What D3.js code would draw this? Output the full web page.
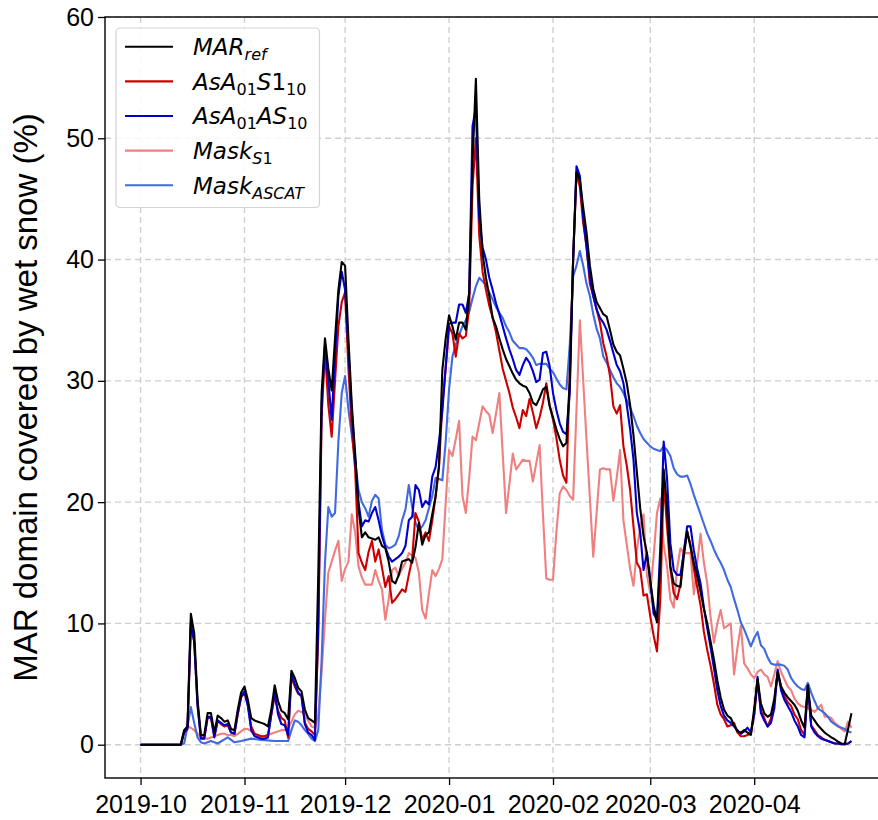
<!DOCTYPE html>
<html><head><meta charset="utf-8">
<script src="https://cdn.jsdelivr.net/npm/d3@7"></script>
<style>body{margin:0;background:#fff} svg{display:block}</style>
</head><body>
<svg id="chart" width="878" height="820"></svg>
<script>
// ---------- data (day offset from startDate, value in %) ----------
const startDate = "2019-10-01";
const monthTicks = ["2019-10-01","2019-11-01","2019-12-01","2020-01-01","2020-02-01","2020-03-01","2020-04-01"];
const yTicks = [0,10,20,30,40,50,60];

const marRef = [[0,0],[12,0],[13,1.2],[14,1.5],[15,10.8],[16,9.2],[17,3.7],[18,0.8],[19,0.8],[20,2.6],[21,2.6],[22,1.0],[23,2.4],[24,2.2],[25,1.9],[26,2.0],[27,1.3],[28,1.2],[29,2.9],[30,4.3],[31,4.8],[32,3.7],[33,2.2],[34,2.0],[35,1.9],[36,1.8],[37,1.7],[38,1.5],[39,2.9],[40,4.9],[41,3.6],[42,2.8],[43,2.6],[44,2.1],[45,6.1],[46,5.5],[47,4.7],[48,4.4],[49,2.9],[50,2.2],[51,2.0],[52,1.8],[53,14],[54,29],[55,33.5],[56,31],[57,29.2],[58,33.5],[59,37.5],[60,39.8],[61,39.5],[62,33.4],[63,28],[64,24],[65,19.5],[66,17.1],[67,17.5],[68,17.1],[69,17.0],[70,16.9],[71,17.1],[72,16.4],[73,16.2],[74,15.1],[75,13.5],[76,13.3],[77,14.0],[78,15.1],[79,15.2],[80,15.3],[81,15.0],[82,16.3],[83,18.3],[84,16.5],[85,17.3],[86,17.5],[87,19.0],[88,20.5],[89,23],[90,30.9],[91,33.5],[92,35.4],[93,34.5],[94,33.4],[95,34.8],[96,34.8],[97,34.2],[98,37.2],[99,48],[100,54.9],[101,45],[102,40.5],[103,38.5],[104,37],[105,35.2],[106,34.5],[107,33.5],[108,32.6],[109,31.8],[110,31.2],[111,30.6],[112,30.1],[113,29.8],[114,29.6],[115,29.5],[116,29.0],[117,28.2],[118,28.0],[119,28.6],[120,29.3],[121,29.5],[122,27.9],[123,27.0],[124,26.0],[125,25.2],[126,24.6],[127,24.9],[128,30],[129,40],[130,47.2],[131,46.6],[132,44.3],[133,42.2],[134,39.5],[135,37.6],[136,36.5],[137,36],[138,35.5],[139,35.3],[140,34.2],[141,33],[142,32.4],[143,32.1],[144,31],[145,29.8],[146,28],[147,25.5],[148,22.5],[149,19.5],[150,17.2],[151,15.8],[152,13.5],[153,11.5],[154,10.1],[155,15],[156,22.7],[157,19.6],[158,14.7],[159,13.3],[160,13.1],[161,13.0],[162,15.5],[163,17.6],[164,16.3],[165,15],[166,13.9],[167,12.6],[168,11.2],[169,10],[170,8.5],[171,7],[172,5.3],[173,3.9],[174,2.9],[175,2.4],[176,2.2],[177,1.6],[178,1.1],[179,1.0],[180,1.2],[181,1.0],[182,0.8],[183,3.0],[184,5.4],[185,3.4],[186,2.6],[187,2.3],[188,2.5],[189,3.8],[190,6.0],[191,4.8],[192,4.3],[193,3.9],[194,3.6],[195,3.3],[196,2.8],[197,2.0],[198,1.4],[199,4.9],[200,2.4],[201,2.0],[202,1.6],[203,1.3],[204,1.0],[205,0.8],[206,0.6],[207,0.45],[208,0.25],[209,0.1],[210,0.05],[211,1.3],[212,2.6]];

const asaS1 = [[0,0],[12,0],[13,1.0],[14,1.4],[15,9.8],[16,8.5],[17,3.3],[18,0.6],[19,0.6],[20,2.2],[21,2.2],[22,0.7],[23,2.0],[24,1.7],[25,1.5],[26,1.6],[27,1.0],[28,0.9],[29,2.5],[30,3.9],[31,4.3],[32,3.3],[33,1.5],[34,0.9],[35,0.8],[36,0.7],[37,0.7],[38,0.8],[39,2.5],[40,4.0],[41,2.8],[42,2.2],[43,2.0],[44,0.6],[45,5.6],[46,4.8],[47,4.2],[48,4.0],[49,1.8],[50,1.3],[51,1.1],[52,0.8],[53,9],[54,27],[55,32.5],[56,28],[57,25.4],[58,30],[59,34.5],[60,36.5],[61,37.3],[62,31],[63,26],[64,22.7],[65,15.8],[66,15.0],[67,14.4],[68,15.9],[69,16.8],[70,15.1],[71,16.1],[72,14.6],[73,13.0],[74,13.9],[75,11.7],[76,12.0],[77,12.4],[78,12.8],[79,12.6],[80,14.0],[81,15.3],[82,19.1],[83,18.4],[84,16.9],[85,17.5],[86,16.8],[87,18.5],[88,20.5],[89,22.9],[90,28],[91,31],[92,34.5],[93,33.9],[94,32.0],[95,33.9],[96,33.5],[97,33.7],[98,36],[99,46],[100,50],[101,42],[102,39],[103,37.5],[104,36.2],[105,35.2],[106,34.0],[107,32.5],[108,31],[109,30],[110,29],[111,27.8],[112,27],[113,26.1],[114,27.6],[115,27.1],[116,28.5],[117,27.4],[118,26.1],[119,27],[120,28.2],[121,29.8],[122,28],[123,26.8],[124,25.3],[125,23.5],[126,22.2],[127,21.6],[128,30.5],[129,40],[130,47.1],[131,46],[132,43],[133,41.1],[134,38],[135,37],[136,35.9],[137,34.8],[138,33.1],[139,32],[140,30.4],[141,27.9],[142,27.3],[143,28.0],[144,24.6],[145,23],[146,21],[147,18],[148,15.0],[149,14.5],[150,12.3],[151,12.4],[152,10.6],[153,9],[154,7.7],[155,12],[156,21.8],[157,18],[158,14.5],[159,12.5],[160,12.0],[161,13.2],[162,16.0],[163,17.6],[164,16.5],[165,14.5],[166,13.0],[167,11.5],[168,9.3],[169,7.8],[170,6.5],[171,5.0],[172,3.3],[173,2.5],[174,2.1],[175,1.5],[176,1.6],[177,1.8],[178,1.0],[179,0.7],[180,0.7],[181,0.8],[182,0.9],[183,2.5],[184,5.2],[185,2.8],[186,2.2],[187,1.5],[188,2.2],[189,3.5],[190,6.0],[191,4.8],[192,4.0],[193,3.5],[194,3.2],[195,2.5],[196,2.1],[197,1.2],[198,0.8],[199,4.8],[200,1.6],[201,1.2],[202,0.8],[203,0.6],[204,0.4],[205,0.3],[206,0.2],[207,0.1],[208,0.1],[209,0.05],[210,0.05],[211,0.1],[212,0.3]];

const asaAS = [[0,0],[12,0],[13,1.0],[14,1.3],[15,10.0],[16,8.5],[17,3.2],[18,0.5],[19,0.5],[20,2.3],[21,2.3],[22,0.6],[23,2.0],[24,1.8],[25,1.6],[26,1.7],[27,1.0],[28,0.9],[29,2.6],[30,4.0],[31,4.4],[32,3.2],[33,1.2],[34,0.7],[35,0.6],[36,0.5],[37,0.5],[38,0.6],[39,2.5],[40,4.4],[41,2.5],[42,1.7],[43,1.6],[44,0.8],[45,5.8],[46,5.0],[47,4.3],[48,4.0],[49,1.7],[50,1.0],[51,0.8],[52,0.4],[53,10],[54,28],[55,33],[56,30],[57,26.8],[58,32],[59,37],[60,39],[61,37.5],[62,32.5],[63,27.5],[64,23.5],[65,20],[66,18.0],[67,18.5],[68,18.4],[69,19.1],[70,19.6],[71,18.5],[72,17.2],[73,16.3],[74,15.5],[75,15.1],[76,15.3],[77,15.5],[78,15.8],[79,16.4],[80,18.5],[81,18.8],[82,21.4],[83,21.0],[84,19.6],[85,20.1],[86,19.8],[87,22.1],[88,22.9],[89,25],[90,27.5],[91,31.2],[92,34.7],[93,34.8],[94,34.8],[95,36.3],[96,36.3],[97,35.6],[98,37.2],[99,51],[100,52.5],[101,43.5],[102,41],[103,40],[104,38.5],[105,37.5],[106,36.4],[107,35.5],[108,34.5],[109,33.5],[110,32.6],[111,31.8],[112,30.9],[113,30.5],[114,31.3],[115,31.9],[116,31.5],[117,30.8],[118,29.9],[119,30.1],[120,32.3],[121,32.4],[122,31.2],[123,29.0],[124,27.6],[125,26.5],[126,25.8],[127,25.6],[128,29],[129,40],[130,47.7],[131,46.9],[132,43.5],[133,41],[134,38.5],[135,37],[136,35.9],[137,35.2],[138,34.8],[139,34.2],[140,33.3],[141,32.3],[142,31.3],[143,30.8],[144,29.8],[145,28],[146,26],[147,23.5],[148,19.1],[149,17.5],[150,14.4],[151,15.8],[152,13.5],[153,10.8],[154,10.3],[155,16.3],[156,25.0],[157,22],[158,16.6],[159,14.4],[160,14.0],[161,14.0],[162,15.8],[163,18.0],[164,18.0],[165,16.0],[166,14.5],[167,13.3],[168,11.3],[169,9.6],[170,8.0],[171,6.3],[172,4.5],[173,3.2],[174,2.4],[175,2.0],[176,1.8],[177,1.5],[178,1.2],[179,0.9],[180,1.1],[181,1.4],[182,1.0],[183,2.5],[184,5.6],[185,2.6],[186,2.0],[187,1.5],[188,1.8],[189,3.0],[190,6.2],[191,4.5],[192,3.7],[193,3.2],[194,2.7],[195,2.0],[196,1.5],[197,0.8],[198,0.6],[199,4.9],[200,1.5],[201,1.0],[202,0.7],[203,0.5],[204,0.4],[205,0.3],[206,0.2],[207,0.1],[208,0.1],[209,0.05],[210,0.05],[211,0.1],[212,0.3]];

const maskS1 = [[0,0],[12,0],[13,1.2],[14,1.5],[15,1.4],[16,1.2],[17,0.9],[18,0.6],[19,0.5],[20,0.5],[21,0.6],[22,0.7],[23,0.8],[24,0.9],[25,0.9],[26,0.8],[27,0.8],[28,0.7],[29,0.9],[30,1.1],[31,1.3],[32,1.3],[33,1.1],[34,0.9],[35,0.7],[36,0.7],[37,0.7],[38,0.8],[39,0.9],[40,1.0],[41,1.1],[42,1.2],[43,1.2],[44,1.3],[45,1.9],[46,2.5],[47,2.8],[48,2.7],[49,2.5],[50,2.0],[51,1.5],[52,1.4],[53,2.5],[54,6],[55,10.3],[56,14.2],[57,15.1],[58,16],[59,16.8],[60,13.5],[61,14.5],[62,15.1],[63,19.0],[64,17.5],[65,14.7],[66,13.8],[67,13.2],[68,13.2],[69,13.2],[70,14.4],[71,13.5],[72,12.8],[73,10.3],[74,12],[75,14.4],[76,14.6],[77,13.9],[78,14.5],[79,15.0],[80,15.8],[81,15.6],[82,15.4],[83,14.2],[84,11.1],[85,10.4],[86,12.5],[87,14.4],[88,13.9],[89,14.5],[90,15.3],[91,20],[92,24.3],[93,23.8],[94,25.2],[95,26.7],[96,20.5],[97,19.1],[98,22],[99,25.4],[100,25.1],[101,26.5],[102,27.9],[103,27.5],[104,27.2],[105,25.7],[106,27.3],[107,29.0],[108,24],[109,19.1],[110,21.5],[111,24.0],[112,22.7],[113,23.1],[114,23.5],[115,23.4],[116,23.4],[117,21.7],[118,23.2],[119,24.7],[120,19],[121,13.7],[122,13.6],[123,13.6],[124,17.5],[125,20.7],[126,21.3],[127,21.0],[128,20.5],[129,20.2],[131,35.0],[133,25.1],[135,15.5],[137,22.7],[138,22.8],[139,22.7],[140,22.7],[141,20.1],[142,22],[143,24.3],[144,18.5],[145,16.5],[146,14.5],[147,13.1],[148,16],[149,18],[150,19.0],[151,14],[152,12.5],[153,15.5],[154,19.1],[155,20.3],[156,16.5],[157,14.7],[158,12.0],[159,11.3],[160,14.5],[161,16.2],[162,15.8],[163,15.8],[164,15.8],[165,12.4],[166,15],[167,17.4],[168,15],[169,13.3],[170,10.5],[171,8.4],[172,10],[173,11.1],[174,9.6],[175,9.8],[176,10.0],[177,5.8],[178,8],[179,9.8],[180,6.7],[181,6.3],[182,5.8],[183,5.5],[184,6.0],[185,6.2],[186,5.8],[187,5.6],[188,4.8],[189,5.8],[190,6.9],[191,6.0],[192,5.4],[193,4.8],[194,4.5],[195,3.8],[196,3.4],[197,3.2],[198,3.1],[199,3.0],[200,2.9],[201,2.7],[202,3.0],[203,3.3],[204,2.3],[205,2.3],[206,2.2],[207,1.8],[208,1.6],[209,1.3],[210,1.1],[211,1.9],[212,1.4]];

const maskASCAT = [[0,0],[12,0],[13,0.1],[14,1.5],[15,3.1],[16,1.8],[17,0.6],[18,0.2],[19,0.1],[21,0.3],[23,0.1],[26,0.6],[28,0.2],[30,0.3],[33,0.5],[36,0.4],[40,0.3],[44,0.3],[45,1.2],[46,2.0],[47,1.9],[48,1.6],[49,1.2],[50,0.9],[51,0.5],[52,0.3],[53,1.2],[54,7],[55,15],[56,19.6],[57,18.8],[58,19.1],[59,25],[60,29],[61,30.4],[62,27.6],[63,25.5],[64,23.5],[65,21],[66,20],[67,19.5],[68,18.8],[69,20.1],[70,20.6],[71,20.3],[72,17.7],[73,16.5],[74,16.2],[75,16.3],[76,16.5],[77,17.2],[78,18.5],[79,19.4],[80,21.4],[81,19.6],[82,18.3],[83,17.7],[84,18.0],[85,18.5],[86,19.5],[87,20.5],[88,22.0],[89,21.9],[90,21.8],[91,25],[92,29.3],[93,32],[94,33.0],[95,33.8],[96,34.5],[97,35],[98,35.7],[99,36.8],[100,37.8],[101,38.5],[102,38.2],[103,37.9],[104,37.3],[105,36.7],[106,36.1],[107,35.6],[108,35.2],[109,34.5],[110,34.0],[111,33.3],[112,33.0],[113,32.7],[114,32.7],[115,32.6],[116,32.3],[117,31.9],[118,31.3],[119,31.4],[120,31.4],[121,31.4],[122,31.0],[123,30.7],[124,30.2],[125,29.7],[126,29.4],[127,29.3],[128,33],[129,38.6],[130,39.5],[131,40.7],[132,39.5],[133,38],[134,37],[135,35.5],[136,34.3],[137,33.5],[138,32.0],[139,31.5],[140,30.9],[141,30.3],[142,29.8],[143,29.5],[144,29.0],[145,28.4],[146,27.8],[147,27.1],[148,26.3],[149,25.7],[150,25.2],[151,24.9],[152,24.6],[153,24.4],[154,24.3],[155,24.2],[156,24.6],[157,24.3],[158,23.8],[159,22.8],[160,22.3],[161,22.1],[162,22.1],[163,22.2],[164,21.5],[165,20.6],[166,19.8],[167,19.0],[168,18.2],[169,17.4],[170,16.8],[171,16.1],[172,15.5],[173,15.0],[174,14.4],[175,13.6],[176,13.0],[177,12.0],[178,11.1],[179,10.1],[180,9.5],[181,8.8],[182,8.1],[183,8.8],[184,9.3],[185,8.2],[186,7.9],[187,7.2],[188,6.7],[189,6.6],[190,6.6],[191,6.6],[192,6.5],[193,6.2],[194,5.5],[195,5.1],[196,4.8],[197,4.6],[198,4.5],[199,5.1],[200,4.3],[201,3.6],[202,3.0],[203,2.8],[204,2.6],[205,2.3],[206,1.9],[207,1.7],[208,1.5],[209,1.4],[210,1.3],[211,1.1],[212,1.0]];

// ---------- chart ----------
const svg = d3.select("#chart");
const box = {left:105, top:17, right:887, bottom:778};
const DAY = 864e5;
const t0 = d3.utcParse("%Y-%m-%d")(startDate).getTime();
const toDate = d => new Date(t0 + d * DAY);

const allSeries = [marRef, asaS1, asaAS, maskS1, maskASCAT];
const dMin = d3.min(allSeries, s => d3.min(s, p => p[0]));
const dMax = d3.max(allSeries, s => d3.max(s, p => p[0]));
const vMax = d3.max(allSeries, s => d3.max(s, p => p[1]));
const xpad = 0.05 * (dMax - dMin);

const x = d3.scaleUtc().domain([toDate(dMin - xpad), toDate(dMax + xpad)]).range([box.left, box.right]);
const y = d3.scaleLinear().domain([-0.05 * vMax, 60]).range([box.bottom, box.top]);

const tickDates = monthTicks.map(d3.utcParse("%Y-%m-%d"));
const fontTick = "'Liberation Sans', Arial, sans-serif";

// grid
const grid = svg.append("g").attr("stroke", "#cfcfcf").attr("stroke-width", 1.4).attr("stroke-dasharray", "6,4");
grid.selectAll("line.v").data(tickDates).join("line").attr("class","v")
  .attr("x1", d => x(d)).attr("x2", d => x(d)).attr("y1", box.top).attr("y2", box.bottom);
grid.selectAll("line.h").data(yTicks).join("line").attr("class","h")
  .attr("x1", box.left).attr("x2", box.right).attr("y1", d => y(d)).attr("y2", d => y(d));

// lines
const styles = [
  {data: maskS1, color: "#f08080"},
  {data: maskASCAT, color: "#4169e1"},
  {data: asaS1, color: "#cc0000"},
  {data: asaAS, color: "#0000cc"},
  {data: marRef, color: "#000000"}
];
const line = d3.line().x(p => x(toDate(p[0]))).y(p => y(p[1]));
const clip = svg.append("clipPath").attr("id","clip").append("rect")
  .attr("x", box.left).attr("y", box.top).attr("width", box.right-box.left).attr("height", box.bottom-box.top);
const lg = svg.append("g").attr("clip-path","url(#clip)");
styles.forEach(s => {
  lg.append("path").datum(s.data).attr("d", line).attr("fill","none")
    .attr("stroke", s.color).attr("stroke-width", 2.1).attr("stroke-linejoin","round").attr("stroke-linecap","butt");
});

// axes
const xAxis = d3.axisBottom(x).tickValues(tickDates).tickFormat(d3.utcFormat("%Y-%m")).tickSize(7).tickPadding(10).tickSizeOuter(0);
const gx = svg.append("g").attr("transform", `translate(0,${box.bottom})`).call(xAxis);
gx.select(".domain").remove();
gx.selectAll("line").attr("stroke","#000").attr("stroke-width",1.3);
gx.selectAll("text").attr("font-size", 25).attr("font-family", fontTick).attr("fill","#000");

const yAxis = d3.axisLeft(y).tickValues(yTicks).tickSize(7).tickPadding(4).tickSizeOuter(0);
const gy = svg.append("g").attr("transform", `translate(${box.left},0)`).call(yAxis);
gy.select(".domain").remove();
gy.selectAll("line").attr("stroke","#000").attr("stroke-width",1.3);
gy.selectAll("text").attr("font-size", 25).attr("font-family", fontTick).attr("fill","#000");

// spines
const sp = svg.append("g").attr("stroke","#000").attr("stroke-width",1.4).attr("fill","none");
sp.append("rect").attr("x", box.left).attr("y", box.top).attr("width", box.right-box.left).attr("height", box.bottom-box.top);

// y label
svg.append("text")
  .attr("transform", `translate(37,${(box.top+box.bottom)/2}) rotate(-90)`)
  .attr("text-anchor","middle").attr("font-size", 33).attr("font-family", fontTick).attr("fill","#000")
  .text("MAR domain covered by wet snow (%)");

// legend
const legendItems = [
  {color:"#000000", parts:[["MAR",0,1],["ref",1,1]]},
  {color:"#cc0000", parts:[["AsA",0,1],["01",1,0],["S",0,1],["1",0,0],["10",1,0]]},
  {color:"#0000cc", parts:[["AsA",0,1],["01",1,0],["AS",0,1],["10",1,0]]},
  {color:"#f08080", parts:[["Mask",0,1],["S",1,1],["1",1,0]]},
  {color:"#4169e1", parts:[["Mask",0,1],["ASCAT",1,1]]}
];
const lgd = svg.append("g");
lgd.append("rect").attr("x",116).attr("y",28).attr("width",203.5).attr("height",179.5).attr("rx",4)
  .attr("fill","#fff").attr("fill-opacity",0.85).attr("stroke","#d3d3d3").attr("stroke-width",1.2);
legendItems.forEach((it, i) => {
  const cy = 46.7 + i * 34.65;
  lgd.append("line").attr("x1",125).attr("x2",173).attr("y1",cy).attr("y2",cy)
    .attr("stroke", it.color).attr("stroke-width",2.1);
  const t = lgd.append("text").attr("x",193).attr("y",cy+8.3)
    .attr("font-family","'DejaVu Sans', sans-serif").attr("font-size",23).attr("fill","#000");
  let prevSub = false;
  it.parts.forEach(([s, sub, ital]) => {
    const ts = t.append("tspan").text(s).attr("font-style", ital ? "italic" : "normal");
    if (sub) ts.attr("font-size",16);
    const dy = (sub && !prevSub) ? 5 : (!sub && prevSub) ? -5 : 0;
    if (dy) ts.attr("dy", dy);
    prevSub = !!sub;
  });
});
</script>
</body></html>
